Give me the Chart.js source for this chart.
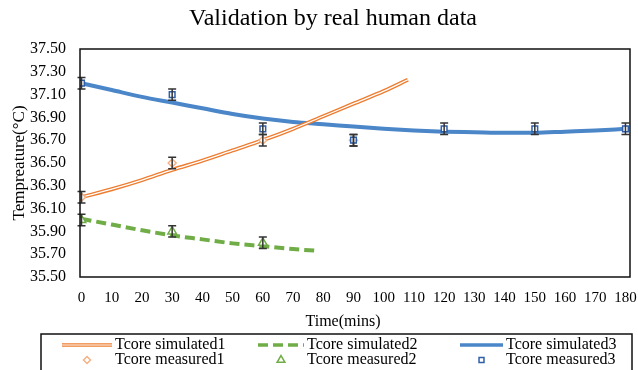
<!DOCTYPE html>
<html>
<head>
<meta charset="utf-8">
<script src="https://cdn.jsdelivr.net/npm/chart.js@4"></script>
<style>
  html, body { margin: 0; padding: 0; background: #fff; }
  #wrap { width: 638px; height: 370px; }
</style>
</head>
<body>
<div id="wrap"><canvas id="tcore-chart" width="638" height="370"></canvas></div>
<script>
// simulated core temperature curves
const simTime1 = [0, 10, 20, 30, 40, 50, 60, 70, 80, 90, 100, 108];
const simTemp1 = [36.20, 36.27, 36.35, 36.44, 36.52, 36.61, 36.70, 36.80, 36.91, 37.02, 37.13, 37.23];
const simTime2 = [0, 10, 20, 30, 40, 50, 60, 70, 78];
const simTemp2 = [36.01, 35.96, 35.91, 35.865, 35.83, 35.795, 35.77, 35.745, 35.73];
const simTime3 = [0, 10, 20, 30, 40, 50, 60, 70, 80, 90, 100, 110, 120, 130, 140, 150, 160, 170, 180];
const simTemp3 = [37.20, 37.14, 37.08, 37.03, 36.98, 36.93, 36.89, 36.86, 36.84, 36.82, 36.80, 36.785, 36.775, 36.77, 36.765, 36.765, 36.775, 36.785, 36.80];

// measured core temperature with error
const measTime1 = [0, 30, 60, 90];
const measTemp1 = [36.20, 36.50, 36.70, 36.70];
const measErr1 = [0.05, 0.05, 0.05, 0.05];
const measTime2 = [0, 30, 60];
const measTemp2 = [36.00, 35.90, 35.80];
const measErr2 = [0.05, 0.05, 0.05];
const measTime3 = [0, 30, 60, 90, 120, 150, 180];
const measTemp3 = [37.20, 37.10, 36.80, 36.70, 36.80, 36.80, 36.80];
const measErr3 = [0.05, 0.05, 0.05, 0.05, 0.05, 0.05, 0.05];

const xTicks = [0, 10, 20, 30, 40, 50, 60, 70, 80, 90, 100, 110, 120, 130, 140, 150, 160, 170, 180];
const yTicks = [35.5, 35.7, 35.9, 36.1, 36.3, 36.5, 36.7, 36.9, 37.1, 37.3, 37.5];

const serif = "'Liberation Serif', 'Times New Roman', serif";
const ORANGE = '#ED7D31';
const GREEN = '#70AD47';
const BLUE = '#4A86C8';

function toXY(xs, ys) {
  return xs.map((x, i) => ({ x: x, y: ys[i] }));
}

const lineBase = { showLine: true, pointRadius: 0, pointHoverRadius: 0, fill: false, cubicInterpolationMode: 'monotone' };
const markBase = { showLine: false, borderWidth: 1.5, backgroundColor: '#fff' };

const datasets = [
  Object.assign({ label: 'Tcore simulated1', data: toXY(simTime1, simTemp1), borderColor: ORANGE, borderWidth: 4, order: 3 }, lineBase),
  Object.assign({ label: 'core1', data: toXY(simTime1, simTemp1), borderColor: '#fff', borderWidth: 1.3, order: 2 }, lineBase),
  Object.assign({ label: 'Tcore simulated2', data: toXY(simTime2, simTemp2), borderColor: GREEN, borderWidth: 4, borderDash: [10, 5], order: 5 }, lineBase),
  Object.assign({ label: 'Tcore simulated3', data: toXY(simTime3, simTemp3), borderColor: BLUE, borderWidth: 4, order: 4 }, lineBase),
  Object.assign({ label: 'Tcore measured1', data: toXY(measTime1, measTemp1), errors: measErr1, pointStyle: 'rectRot', pointRadius: 4, borderColor: '#F4B183', order: -1 }, markBase),
  Object.assign({ label: 'Tcore measured2', data: toXY(measTime2, measTemp2), errors: measErr2, pointStyle: 'triangle', pointRadius: 5, borderColor: GREEN, order: -2 }, markBase),
  Object.assign({ label: 'Tcore measured3', data: toXY(measTime3, measTemp3), errors: measErr3, pointStyle: 'rect', pointRadius: 4, borderColor: '#2F5FA8', order: -3 }, markBase),
];

// error bars, frame, titles and the boxed legend
const decorations = {
  id: 'decorations',
  afterDatasetsDraw(chart) {
    const ctx = chart.ctx;
    const xs = chart.scales.x, ys = chart.scales.y;
    ctx.save();
    ctx.strokeStyle = '#333';
    ctx.lineWidth = 1.5;
    chart.data.datasets.forEach(ds => {
      if (!ds.errors) return;
      ds.data.forEach((p, i) => {
        const px = xs.getPixelForValue(p.x);
        const top = ys.getPixelForValue(p.y + ds.errors[i]);
        const bot = ys.getPixelForValue(p.y - ds.errors[i]);
        ctx.beginPath();
        ctx.moveTo(px, top); ctx.lineTo(px, bot);
        ctx.moveTo(px - 4, top); ctx.lineTo(px + 4, top);
        ctx.moveTo(px - 4, bot); ctx.lineTo(px + 4, bot);
        ctx.stroke();
      });
    });
    ctx.restore();
  },
  afterDraw(chart) {
    const ctx = chart.ctx;
    const a = chart.chartArea;
    ctx.save();
    ctx.strokeStyle = '#111';
    ctx.lineWidth = 1.5;
    ctx.strokeRect(a.left, a.top, a.right - a.left, a.bottom - a.top);

    ctx.fillStyle = '#000';
    ctx.textAlign = 'center';
    ctx.textBaseline = 'middle';
    ctx.font = '24px ' + serif;
    ctx.fillText('Validation by real human data', 333, 19);
    ctx.font = '16px ' + serif;
    ctx.fillText('Time(mins)', 343, 322);
    ctx.save();
    ctx.translate(20, 163);
    ctx.rotate(-Math.PI / 2);
    ctx.font = '17px ' + serif;
    ctx.fillText('Tempreature(\u00B0C)', 0, 0);
    ctx.restore();

    // legend box
    ctx.lineWidth = 1.5;
    ctx.strokeRect(41, 334, 591, 42);
    const ds = chart.data.datasets;
    const cols = [
      { x0: 62, x1: 112, line: [ds[0], ds[1]], mark: ds[4] },
      { x0: 258, x1: 304, line: [ds[2]], mark: ds[5] },
      { x0: 460, x1: 503, line: [ds[3]], mark: ds[6] },
    ];
    const row1 = 345, row2 = 360;
    cols.forEach(c => {
      c.line.forEach(l => {
        ctx.save();
        ctx.strokeStyle = l.borderColor;
        ctx.lineWidth = l.borderWidth === 4 ? 3.5 : 1;
        ctx.setLineDash(l.borderDash || []);
        ctx.beginPath();
        ctx.moveTo(c.x0, row1); ctx.lineTo(c.x1, row1);
        ctx.stroke();
        ctx.restore();
      });
      const m = c.mark;
      ctx.save();
      ctx.strokeStyle = m.borderColor;
      ctx.fillStyle = '#fff';
      ctx.lineWidth = 1.5;
      Chart.helpers.drawPoint(ctx, { pointStyle: m.pointStyle, radius: m.pointRadius - 0.5, rotation: 0, borderWidth: 1.5 }, (c.x0 + c.x1) / 2, row2);
      ctx.restore();
      ctx.fillStyle = '#000';
      ctx.textAlign = 'left';
      ctx.font = '16px ' + serif;
      ctx.fillText(c.line[0].label, c.x1 + 3, row1);
      ctx.fillText(m.label, c.x1 + 3, row2);
    });
    ctx.restore();
  }
};

new Chart(document.getElementById('tcore-chart'), {
  type: 'scatter',
  data: { datasets: datasets },
  options: {
    responsive: false,
    animation: false,
    events: [],
    layout: { padding: { top: 49, right: 8, left: 0, bottom: 0 } },
    plugins: { legend: { display: false }, title: { display: false }, tooltip: { enabled: false } },
    scales: {
      x: {
        type: 'linear',
        min: -0.5,
        max: 181.5,
        grid: { display: false, drawTicks: false },
        border: { display: false },
        afterBuildTicks: s => { s.ticks = xTicks.map(v => ({ value: v })); },
        afterFit: s => { s.height = 93; s.paddingLeft = 0; s.paddingRight = 0; },
        ticks: { autoSkip: false, maxRotation: 0, padding: 12, color: '#000', font: { family: serif, size: 15 } },
      },
      y: {
        min: 35.5,
        max: 37.5,
        grid: { display: false, drawTicks: false },
        border: { display: false },
        afterBuildTicks: s => { s.ticks = yTicks.map(v => ({ value: v })); },
        afterFit: s => { s.width = 80; },
        ticks: { padding: 14, color: '#000', font: { family: serif, size: 16 }, callback: v => v.toFixed(2) },
      },
    },
  },
  plugins: [decorations],
});
</script>
</body>
</html>
